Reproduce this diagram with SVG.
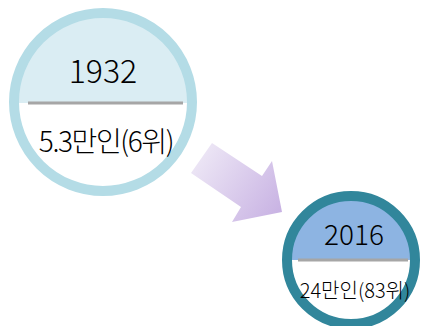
<svg xmlns="http://www.w3.org/2000/svg" width="421" height="326" viewBox="0 0 421 326">
<style>
.t{font-family:"Noto Sans CJK KR","Noto Sans",sans-serif;fill:#000;text-anchor:middle;font-weight:300}
.div{stroke:#A6A6A6;stroke-width:3}
</style>
<defs>
<linearGradient id="ag" x1="191" y1="150" x2="282" y2="212" gradientUnits="userSpaceOnUse">
<stop offset="0" stop-color="#F0EBF7"/>
<stop offset="1" stop-color="#C8B2E3"/>
</linearGradient>
<clipPath id="c1"><circle cx="103" cy="102" r="89"/></clipPath>
<clipPath id="c2"><circle cx="351" cy="260" r="64"/></clipPath>
</defs>
<g id="connectors">
<polygon points="212,143 262,176 272,161 282,212 232,222 241,207 191,173" fill="url(#ag)"/>
</g>
<g id="node1932">
<circle cx="103" cy="102" r="89" fill="#fff"/>
<rect x="0" y="0" width="210" height="103" fill="#DAEDF3" clip-path="url(#c1)"/>
<line class="div" x1="28" y1="103" x2="183" y2="103"/>
<circle cx="103" cy="102" r="89" fill="none" stroke="#B4DCE6" stroke-width="10"/>
<text class="t" x="103" y="83" font-size="32">1932</text>
<text class="t" x="106" y="152" font-size="28" letter-spacing="-1.4">5.3만인(6위)</text>
</g>
<g id="node2016">
<circle cx="351" cy="260" r="64" fill="#fff"/>
<rect x="280" y="190" width="145" height="70" fill="#8DB4E2" clip-path="url(#c2)"/>
<line class="div" x1="298" y1="260" x2="408" y2="260"/>
<circle cx="351" cy="260" r="64" fill="none" stroke="#31869B" stroke-width="10"/>
<text class="t" x="354" y="245" font-size="28">2016</text>
<text class="t" x="355" y="298" font-size="20">24만인(83위)</text>
</g>
</svg>
